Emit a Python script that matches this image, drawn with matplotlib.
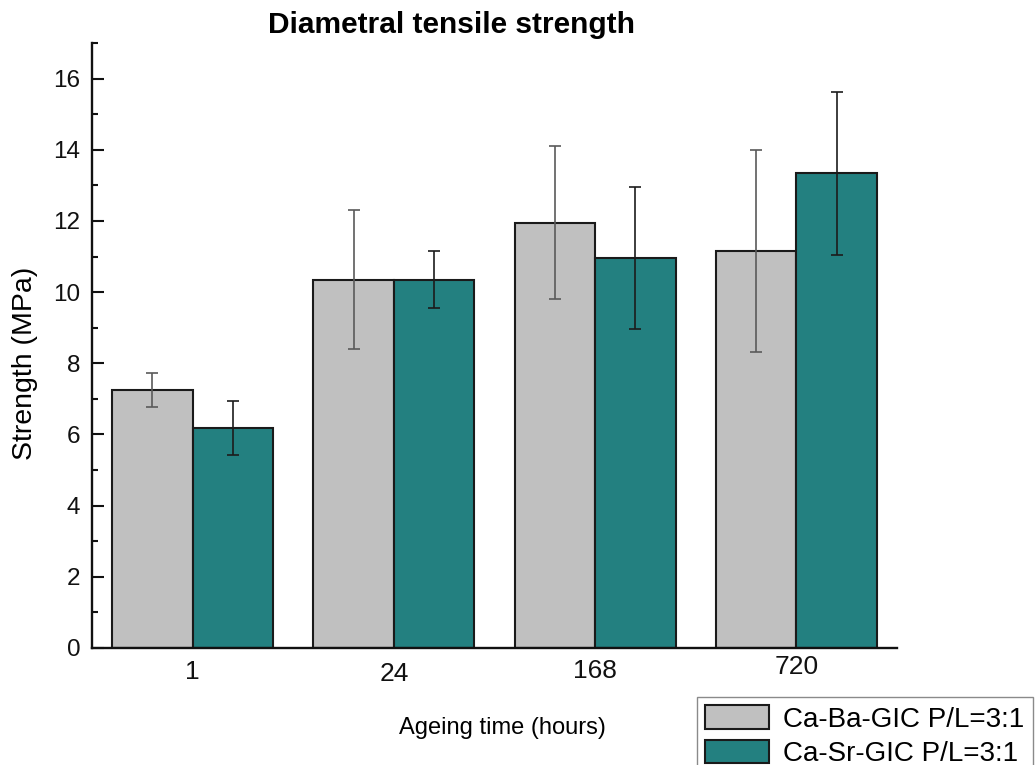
import matplotlib
matplotlib.use("Agg")
import matplotlib.pyplot as plt
import numpy as np
from matplotlib.transforms import ScaledTranslation
from matplotlib.ticker import MultipleLocator

plt.rcParams['font.family'] = ['Liberation Sans', 'DejaVu Sans']

# Ageing times and diametral tensile strength (MPa), mean and standard deviation
ageing_hours = ["1", "24", "168", "720"]
series_names = ["Ca-Ba-GIC P/L=3:1", "Ca-Sr-GIC P/L=3:1"]
ba_mean = [7.25, 10.35, 11.95, 11.15]
ba_sd = [0.48, 1.95, 2.15, 2.83]
sr_mean = [6.18, 10.35, 10.95, 13.34]
sr_sd = [0.76, 0.80, 2.00, 2.29]

W, H = 1035, 765
fig = plt.figure(figsize=(W / 100, H / 100), dpi=100)
ax = fig.add_axes([92 / W, 1 - 648 / H, (897 - 92) / W, (648 - 43) / H])

x = np.arange(len(ageing_hours))
bw = 0.4
ax.bar(x - bw / 2, ba_mean, width=bw, color="#c0c0c0", edgecolor="#1a1a1a",
       linewidth=1.5, label=series_names[0], zorder=2)
ax.bar(x + bw / 2, sr_mean, width=bw, color="#238080", edgecolor="#1a1a1a",
       linewidth=1.5, label=series_names[1], zorder=2)
ax.errorbar(x - bw / 2, ba_mean, yerr=ba_sd, fmt="none", ecolor="#5a5a5a",
            elinewidth=1.2, capsize=4.3, capthick=1.2, zorder=3)
ax.errorbar(x + bw / 2, sr_mean, yerr=sr_sd, fmt="none", ecolor="#1c1c1c",
            elinewidth=1.2, capsize=4.3, capthick=1.2, zorder=3)

ax.set_xlim(-0.5, 3.5)
ax.set_ylim(0, 17)
ax.yaxis.set_major_locator(MultipleLocator(2))
ax.yaxis.set_minor_locator(MultipleLocator(1))

for side in ("top", "right"):
    ax.spines[side].set_visible(False)
for side in ("left", "bottom"):
    ax.spines[side].set_linewidth(1.7)
    ax.spines[side].set_color("#111111")

ax.tick_params(axis="y", which="major", direction="in", length=8.5, width=1.5,
               labelsize=17.5, pad=8.5, colors="#111111")
ax.tick_params(axis="y", which="minor", direction="in", length=4.5, width=1.5,
               colors="#111111")
ax.set_xticks(x)
ax.set_xticklabels(ageing_hours)
ax.tick_params(axis="x", length=0, labelsize=19, pad=8, colors="#111111")

# the category labels sit at slightly different heights
for lbl, dy in zip(ax.get_xticklabels(), [-1, -3, 0, 4]):
    lbl.set_transform(lbl.get_transform() +
                      ScaledTranslation(0, dy * 0.72 / 72, fig.dpi_scale_trans))

ax.set_xlabel("Ageing time (hours)", fontsize=17, va="center")
ax.xaxis.set_label_coords((502 - 92) / (897 - 92), (648 - 728) / (648 - 43))
ax.set_ylabel("Strength (MPa)", fontsize=20.5, va="center")
ax.yaxis.set_label_coords((25 - 92) / (897 - 92), (648 - 363) / (648 - 43))

fig.text(451 / W, 1 - 25 / H, "Diametral tensile strength", fontsize=21.5,
         fontweight="bold", ha="center", va="center")

leg = ax.legend(loc="upper left", bbox_to_anchor=(697 / W, 1 - 697 / H),
                bbox_transform=fig.transFigure, fontsize=20, frameon=True,
                fancybox=False, edgecolor="#8a8a8a", framealpha=1,
                handlelength=2.3, handleheight=0.95, handletextpad=0.5,
                borderpad=0.3, labelspacing=0.24, borderaxespad=0)
leg.get_frame().set_linewidth(1.0)

fig.savefig("out.png", dpi=100)
